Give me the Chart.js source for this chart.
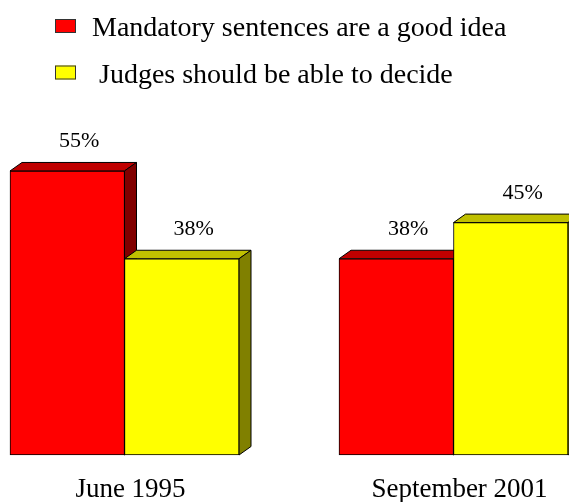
<!DOCTYPE html>
<html>
<head>
<meta charset="utf-8">
<script src="https://cdn.jsdelivr.net/npm/chart.js@4"></script>
<style>
  html, body { margin: 0; padding: 0; background: #fff; overflow: hidden; }
  canvas { display: block; }
</style>
</head>
<body>
<canvas id="chart" width="569" height="502"></canvas>
<script>
const categories = ['June 1995', 'September 2001'];
const seriesLabels = ['Mandatory sentences are a good idea', ' Judges should be able to decide'];
const mandatory = [55, 38];
const judges = [38, 45];

const FONT = "'Liberation Serif', 'Times New Roman', serif";

const COLORS = {
  red: '#FF0000',
  redTop: '#C00000',
  redSide: '#800000',
  yellow: '#FFFF00',
  yellowTop: '#C0C000',
  yellowSide: '#808000',
  line: '#000000',
  text: '#000000',
};

const FACES = [
  { top: COLORS.redTop, side: COLORS.redSide },
  { top: COLORS.yellowTop, side: COLORS.yellowSide },
];

const DEPTH_X = 12;
const DEPTH_Y = 8.5;

function _poly(ctx, pts, fill) {
  ctx.beginPath();
  ctx.moveTo(pts[0][0], pts[0][1]);
  for (let i = 1; i < pts.length; i++) ctx.lineTo(pts[i][0], pts[i][1]);
  ctx.closePath();
  ctx.fillStyle = fill;
  ctx.fill();
  ctx.stroke();
}

// top and side faces, drawn under the library's front faces
const barDepth = {
  id: 'barDepth',
  beforeDatasetsDraw(chart) {
    const { ctx } = chart;
    ctx.save();
    ctx.lineWidth = 1;
    ctx.strokeStyle = COLORS.line;
    chart.data.datasets.forEach((ds, di) => {
      chart.getDatasetMeta(di).data.forEach((bar) => {
        const { x, y, base, width } = bar.getProps(['x', 'y', 'base', 'width'], true);
        const l = x - width / 2;
        const r = x + width / 2;
        _poly(ctx, [[l, y], [l + DEPTH_X, y - DEPTH_Y], [r + DEPTH_X, y - DEPTH_Y], [r, y]], FACES[di].top);
        _poly(ctx, [[r, y], [r + DEPTH_X, y - DEPTH_Y], [r + DEPTH_X, base - DEPTH_Y], [r, base]], FACES[di].side);
      });
    });
    ctx.restore();
  },
  afterDatasetsDraw(chart) {
    const { ctx } = chart;
    ctx.save();
    ctx.fillStyle = COLORS.text;
    ctx.font = `22px ${FONT}`;
    ctx.textAlign = 'center';
    ctx.textBaseline = 'alphabetic';
    chart.data.datasets.forEach((ds, di) => {
      chart.getDatasetMeta(di).data.forEach((bar, i) => {
        const { x, y } = bar.getProps(['x', 'y'], true);
        ctx.fillText(`${ds.data[i]}%`, x + DEPTH_X, y - 24);
      });
    });

    // category labels, centred under each group including its depth
    const xScale = chart.scales.x;
    ctx.font = `27px ${FONT}`;
    categories.forEach((c, i) => {
      ctx.fillText(c, xScale.getPixelForValue(i) + DEPTH_X / 2, 497);
    });

    // legend, one item per row
    ctx.textAlign = 'left';
    ctx.font = `28px ${FONT}`;
    chart.data.datasets.forEach((ds, di) => {
      const top = 19 + di * 46.5;
      ctx.fillStyle = ds.backgroundColor;
      ctx.fillRect(55, top, 21, 14);
      ctx.strokeStyle = '#333';
      ctx.lineWidth = 1;
      ctx.strokeRect(55.5, top + 0.5, 20, 13);
      ctx.fillStyle = COLORS.text;
      ctx.fillText(ds.label, 92, top + 17);
    });
    ctx.restore();
  },
};

new Chart(document.getElementById('chart'), {
  type: 'bar',
  data: {
    labels: categories,
    datasets: [
      { label: seriesLabels[0], data: mandatory, backgroundColor: COLORS.red },
      { label: seriesLabels[1], data: judges, backgroundColor: COLORS.yellow },
    ],
  },
  options: {
    responsive: false,
    animation: false,
    events: [],
    layout: { padding: { top: 93.5, bottom: 47, left: 124.5, right: 115.5 } },
    datasets: {
      bar: {
        barThickness: 114.5,
        borderWidth: 1,
        borderColor: COLORS.line,
        borderSkipped: false,
        clip: false,
      },
    },
    plugins: {
      legend: { display: false },
      tooltip: { enabled: false },
    },
    scales: {
      x: { display: false, offset: false },
      y: { display: false, min: 0, max: 70 },
    },
  },
  plugins: [barDepth],
});
</script>
</body>
</html>
